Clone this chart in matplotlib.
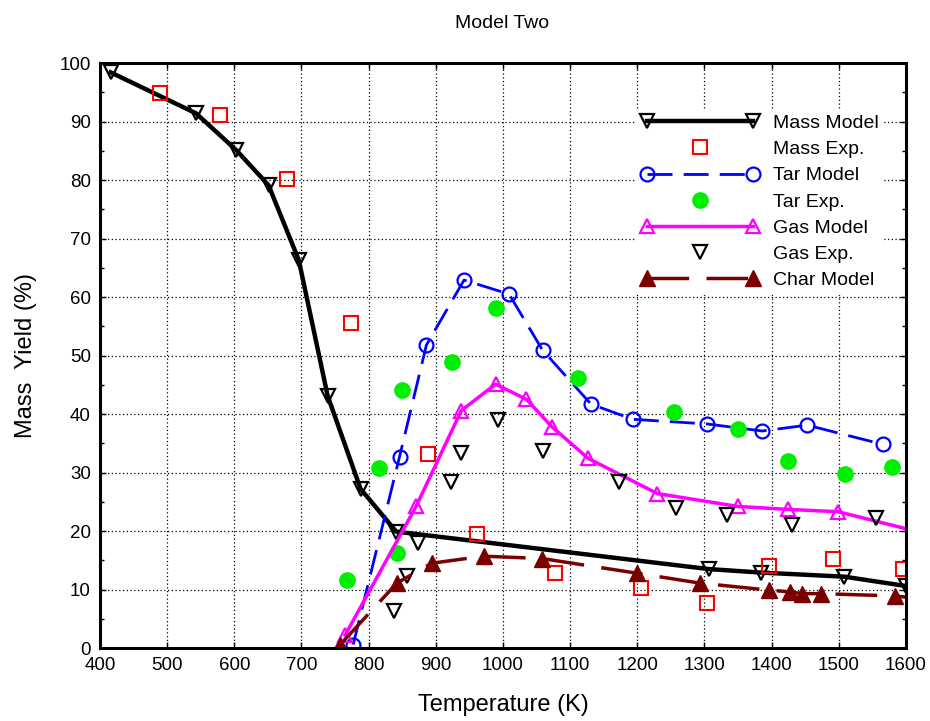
import matplotlib
matplotlib.use("Agg")
import matplotlib.pyplot as plt
from matplotlib.legend_handler import HandlerLine2D

plt.rcParams['font.family'] = ['Liberation Sans', 'DejaVu Sans']

# Mass model (black line, open down triangles)
mass_model_t = [416, 543, 603, 651, 696, 739, 788, 841, 1306, 1384, 1508, 1600]
mass_model_y = [98.4, 91.4, 85.1, 79.1, 66.3, 43.1, 27.2, 19.9, 13.5, 12.9, 12.2, 10.6]

# Mass experimental (red squares)
mass_exp_t = [489, 578, 679, 774, 888, 961, 1078, 1206, 1304, 1396, 1492, 1596]
mass_exp_y = [94.8, 91.1, 80.1, 55.6, 33.1, 19.5, 12.8, 10.3, 7.7, 14.1, 15.2, 13.5]

# Tar model (blue dashed, open circles)
tar_model_t = [777, 846, 886, 942, 1009, 1059, 1131, 1193, 1304, 1386, 1453, 1566]
tar_model_y = [0.6, 32.7, 51.8, 62.9, 60.5, 50.9, 41.7, 39.1, 38.3, 37.1, 38.1, 34.8]

# Tar experimental (green dots)
tar_exp_t = [768, 816, 842, 849, 924, 990, 1111, 1254, 1350, 1424, 1509, 1579]
tar_exp_y = [11.6, 30.7, 16.3, 44.1, 48.9, 58.2, 46.1, 40.3, 37.4, 32.0, 29.7, 30.9]

# Gas model (magenta line, open up triangles)
gas_model_t = [765, 871, 938, 989, 1035, 1073, 1127, 1230, 1350, 1424, 1499, 1600]
gas_model_y = [2.2, 24.3, 40.6, 45.1, 42.5, 37.8, 32.4, 26.4, 24.2, 23.7, 23.3, 20.4]
gas_model_mark = [0, 1, 2, 3, 4, 5, 6, 7, 8, 9, 10]

# Gas experimental (black open down triangles)
gas_exp_t = [838, 857, 874, 923, 938, 992, 1060, 1172, 1258, 1333, 1430, 1556]
gas_exp_y = [6.3, 12.3, 18.0, 28.3, 33.4, 38.9, 33.7, 28.3, 23.9, 22.7, 21.1, 22.3]

# Char model (dark red long dashes, filled up triangles)
char_model_t = [757, 842, 894, 971, 1058, 1199, 1293, 1396, 1427, 1445, 1473, 1584, 1600]
char_model_y = [0.5, 11.1, 14.5, 15.7, 15.3, 12.8, 11.1, 9.9, 9.6, 9.3, 9.3, 8.9, 8.7]
char_model_mark = [0, 1, 2, 3, 4, 5, 6, 7, 8, 9, 10, 11]

fig = plt.figure(figsize=(9.3, 7.21), dpi=100)
ax = fig.add_axes([0.1075, 0.1012, 0.8667, 0.8114])

l_mass, = ax.plot(mass_model_t, mass_model_y, color='black', lw=3.2, marker='v',
                  ms=10, mfc='none', mec='black', mew=1.6, label='Mass Model')
l_mexp, = ax.plot(mass_exp_t, mass_exp_y, ls='none', marker='s', ms=10,
                  mfc='none', mec='red', mew=1.5, label='Mass Exp.')
l_tar, = ax.plot(tar_model_t, tar_model_y, color='blue', lw=2, dashes=(9, 4),
                 marker='o', ms=10, mfc='none', mec='blue', mew=1.6,
                 label='Tar Model')
l_texp, = ax.plot(tar_exp_t, tar_exp_y, ls='none', marker='o', ms=11,
                  mfc='#00ee00', mec='#00ee00', label='Tar Exp.')
l_gas, = ax.plot(gas_model_t, gas_model_y, color='magenta', lw=2.5, marker='^',
                 ms=10, mfc='none', mec='magenta', mew=1.6,
                 markevery=gas_model_mark, label='Gas Model')
l_gexp, = ax.plot(gas_exp_t, gas_exp_y, ls='none', marker='v', ms=10,
                  mfc='none', mec='black', mew=1.6, label='Gas Exp.')
l_char, = ax.plot(char_model_t, char_model_y, color='#7a0000', lw=2.5,
                  dashes=(12, 5), marker='^', ms=11, mfc='#7a0000',
                  mec='#7a0000', markevery=char_model_mark, label='Char Model')

ax.set_xlim(400, 1600)
ax.set_ylim(0, 100)
ax.set_xticks(range(400, 1601, 100))
ax.set_yticks(range(0, 101, 10))
ax.set_yticks(range(0, 101, 5), minor=True)
ax.tick_params(which='both', direction='in', top=True, right=True,
               labelsize=13.5, pad=6.5)
ax.tick_params(which='major', length=4, width=1)
ax.tick_params(which='minor', length=3, width=1)
ax.grid(True, which='major', color='black', ls=(0, (1, 2)), lw=0.9)
for s in ax.spines.values():
    s.set_linewidth(2.2)

ax.set_xlabel('Temperature (K)', fontsize=17, labelpad=14)
ax.set_ylabel('Mass  Yield (%)', fontsize=17, labelpad=16)
fig.text(0.540, 0.967, 'Model Two', ha='center', va='center', fontsize=14)

one = HandlerLine2D(numpoints=1)
leg = ax.legend(handles=[l_mass, l_mexp, l_tar, l_texp, l_gas, l_gexp, l_char],
                loc='upper left', bbox_to_anchor=(0.664, 0.922),
                borderaxespad=0, numpoints=2, handlelength=6.05,
                handletextpad=0.73, labelspacing=0.44, fontsize=14,
                frameon=True, fancybox=False, borderpad=0.3,
                handler_map={l_mexp: one, l_texp: one, l_gexp: one})
leg.get_frame().set_edgecolor('none')
leg.get_frame().set_facecolor('white')
leg.get_frame().set_alpha(1)

fig.savefig('out.png', dpi=100)
